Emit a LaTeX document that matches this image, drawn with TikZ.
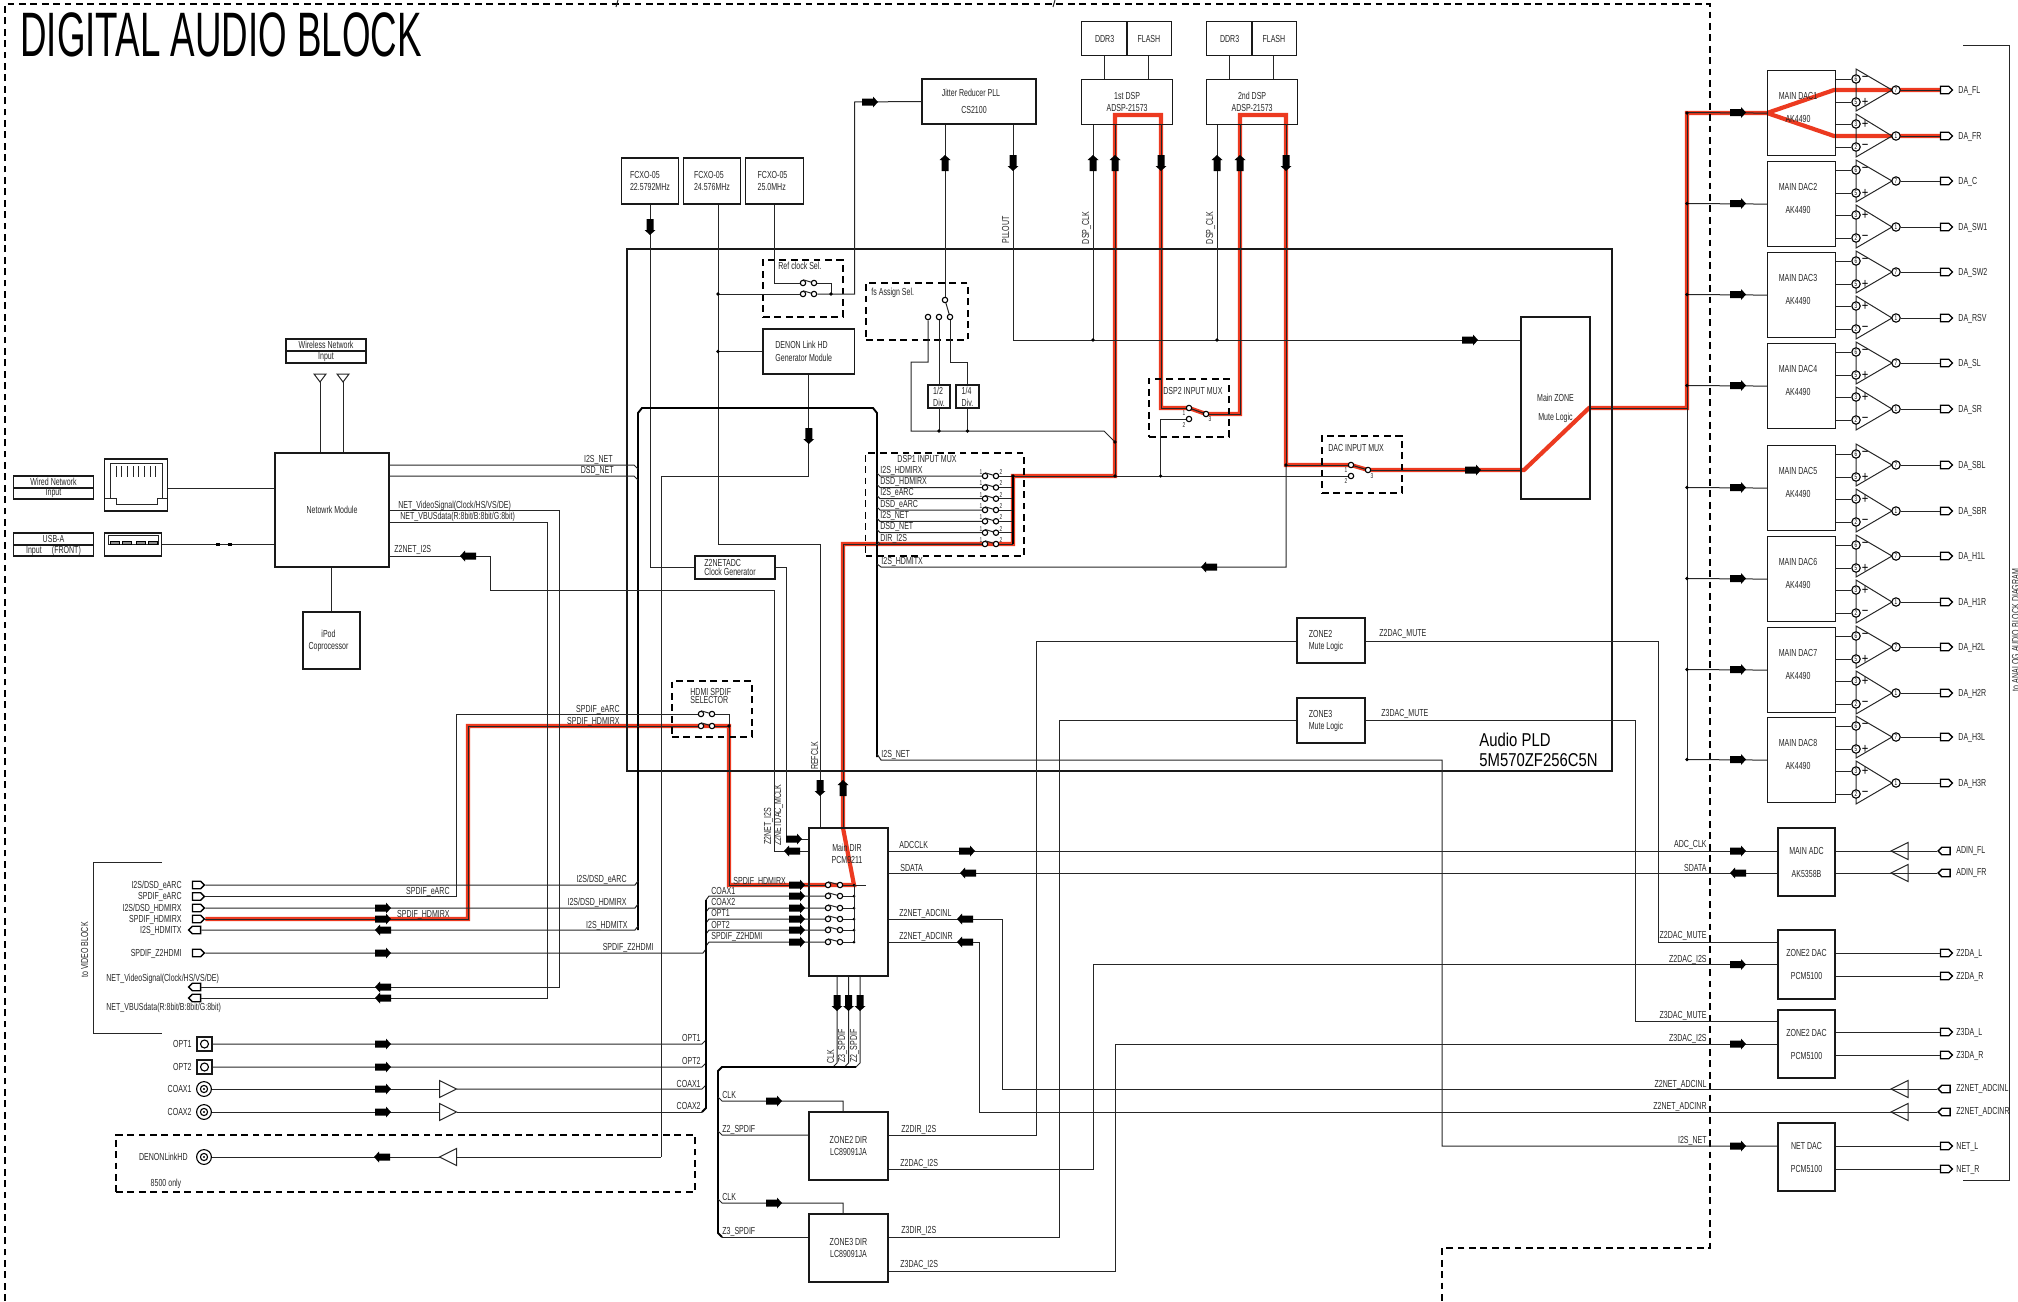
\documentclass[tikz,border=0pt]{standalone}
\usepackage{fontspec}
\setmainfont[FakeStretch=0.69]{Liberation Sans}
\newfontfamily\titlefont[FakeStretch=0.585]{Liberation Sans}
\newfontfamily\pldfont[FakeStretch=0.8]{Liberation Sans}
\usetikzlibrary{shapes.symbols, backgrounds}
\definecolor{hotred}{RGB}{236,58,32}
\begin{document}
\begin{tikzpicture}[
  x=0.5pt, y=-0.5pt,
  font=\fontsize{5.1}{6}\selectfont,
  blk/.style={rectangle, draw=black!90, line width=0.6pt, inner sep=0pt, align=center, text=black!85},
  blkl/.style={blk, align=left},
  wh/.style 2 args={minimum width=#1*0.5pt, minimum height=#2*0.5pt},
  zoneln/.style={line width=0.6pt, dash pattern=on 3.4pt off 2.3pt},
  zone/.style={rectangle, draw, zoneln, inner sep=0pt},
  sig/.style={line width=0.5pt, draw=black!85},
  busln/.style={line width=0.95pt},
  hot/.style={draw=hotred, line width=2.1pt},
  txt/.style={inner sep=0pt, align=center, text=black!85},
  lbl/.style={inner sep=0pt, anchor=west, text=black!85, text height=3.8pt, text depth=0.8pt},
  rlbl/.style={lbl, anchor=east},
  vlbl/.style={lbl, anchor=center, rotate=90},
  tiny/.style={inner sep=0pt, font=\fontsize{3.5}{4}\selectfont, text=black!85},
  sgn/.style={inner sep=0pt, font=\pldfont\fontsize{7}{7}\selectfont},
  pin/.style={circle, draw, fill=white, line width=0.55pt, inner sep=0pt, minimum size=2.7pt},
  pinn/.style={pin, minimum size=4.2pt, font=\fontsize{3.4}{4}\selectfont},
  tagout/.style={signal, signal to=east, draw, line width=0.65pt, inner sep=0pt,
                 minimum width=6pt, minimum height=3.8pt},
  tagin/.style={tagout, signal to=west},
  barr/.pic={\fill (-8,-3.5) -- (3,-3.5) -- (3,-5.5) -- (8,0) -- (3,5.5) -- (3,3.5) -- (-8,3.5) -- cycle;},
  bufa/.pic={\draw[sig, fill=white] (-8.5,-8.5) -- (8.5,0) -- (-8.5,8.5) -- cycle;
             \coordinate (-a) at (-8.5,0); \coordinate (-b) at (8.5,0);},
  antn/.pic={\draw[sig] (-6,-7) -- (6,-7) -- (0,1) -- cycle;}
]
\useasboundingbox (0,0) rectangle (2018,1301);
%% frames
\draw[zoneln] (5,1301) -- (5,4) -- (1710,4) -- (1710,1248) -- (1442,1248) -- (1442,1301);
\draw[sig] (618,0) -- (616,7);
\draw[sig] (1055,0) -- (1053,7);
\draw[sig] (162,862) -- (93,862) -- (93,1033) -- (162,1033);
\draw[sig] (1963,45) -- (2009,45) -- (2009,1180) -- (1963,1180);
\node[inner sep=0pt, anchor=west, font=\titlefont\fontsize{31.4}{32}\selectfont] (title) at (20,35) {DIGITAL AUDIO BLOCK};
\node[vlbl, anchor=center] (tovideo) at (85,950) {to VIDEO BLOCK};
\node[vlbl, anchor=center] (toanalog) at (2016,630) {to ANALOG AUDIO BLOCK DIAGRAM};
\node[blk, wh={985}{522}] (pld) at (1119.5,510) {};
\node[inner sep=0pt, anchor=north west, align=left, font=\pldfont\fontsize{9.3}{10}\selectfont] (pldtxt) at (1479,733) {Audio PLD\\5M570ZF256C5N};
%% network side
\node[blk, wh={114}{114}] (netmod) at (332,510) {Netowrk Module};
\node[blk, wh={57}{57}] (ipod) at (331.5,640.5) {iPod\hspace*{3pt}\\[0pt]Coprocessor\hspace*{3pt}};
\node[blk, wh={80}{12}] (wless_a) at (326,345) {Wireless Network};
\node[blk, wh={80}{12}] (wless_b) at (326,357) {Input};
\node[blk, wh={80}{12}] (wired_a) at (53.5,482) {Wired Network};
\node[blk, wh={80}{11}] (wired_b) at (53.5,493.5) {Input};
\node[blk, wh={80}{12}] (usb_a) at (53.5,539) {USB-A};
\node[blk, wh={80}{11}] (usb_b) at (53.5,550.5) {Input\quad(FRONT)};
\node[blk, wh={62.5}{52}] (rj45) at (136,485) {};
\node[blk, wh={57.5}{23}] (usbj) at (133,544.5) {};
\draw[sig] (104.5,498) -- (116,498) -- (116,504) -- (157,504) -- (157,498) -- (167,498);
\draw[sig] (110,498) -- (110,463) -- (162,463) -- (162,498);
\foreach \x in {116,121.7,...,157} \draw[sig] (\x,466) -- (\x,477);
\draw[sig] (108,535) rectangle (158,544);
\foreach \x in {110,122,136,148} \draw[line width=0.4pt, fill=black!45] (\x,541) rectangle (\x+9,544);
\pic (ant_a) at (320,381) {antn};
\pic (ant_b) at (343,381) {antn};
\draw[sig] (320,381) -- (netmod.north -| 320,0);
\draw[sig] (343,381) -- (netmod.north -| 343,0);
\draw[sig] (rj45.east |- 0,488) -- (netmod.west |- 0,488);
\draw[sig] (usbj.east) -- (netmod.west |- usbj.east);
\fill (216,542.5) rectangle (220,545.5);
\fill (228,542.5) rectangle (232,545.5);
\draw[sig] (netmod.south -| ipod.north) -- (ipod.north);
%% clock section
\node[blkl, wh={57.5}{46}] (fcxo1) at (650,181) {FCXO-05\\22.5792MHz};
\node[blkl, wh={57.5}{46}] (fcxo2) at (712,181) {FCXO-05\\24.576MHz};
\node[blkl, wh={57.5}{46}] (fcxo3) at (774.5,181) {FCXO-05\hspace*{2pt}\\25.0MHz};
\node[blk, wh={114}{45}] (jitter) at (979,101.5) {Jitter Reducer PLL\hspace*{8pt}\\[2.5pt]CS2100\hspace*{5pt}};
\node[zone, wh={80}{57}] (refsel) at (803,288.5) {};
\node[zone, wh={102}{57}] (fssel) at (917,311.5) {};
\node[blkl, wh={91.5}{45}] (denon) at (808.75,351.5) {DENON Link HD\\[0.5pt]Generator Module\hspace*{5pt}};
\node[blkl, wh={22}{23}] (div2) at (939,396.5) {1/2\\Div.};
\node[blkl, wh={23}{23}] (div4) at (967.5,396.5) {1/4\\Div.};
\node[blkl, wh={80}{23}] (clkgen) at (735,567.5) {Z2NETADC\\[-1.5pt]Clock Generator\hspace*{5pt}};
\node[pin] (ref_a) at (803,283) {};
\node[pin] (ref_b) at (814,283) {};
\node[pin] (ref_c) at (803,294) {};
\node[pin] (ref_d) at (814,294) {};
\node[pin] (fs_c) at (945,300) {};
\node[pin] (fs_1) at (928,317) {};
\node[pin] (fs_2) at (939,317) {};
\node[pin] (fs_3) at (950,317) {};
\draw[sig] (fcxo1.south) -- (fcxo1.south |- clkgen.west) -- (clkgen.west);
\draw[sig] (fcxo2.south -| 718,0) -- (718,544) -- (820,544) -- (820,828);
\draw[sig] (fcxo3.south) -- (fcxo3.south |- ref_a) -- (ref_a);
\draw[sig] (ref_a.north) -- (ref_b);
\draw[sig] (ref_c.north) -- (ref_d);
\draw[sig] (ref_b) -- (831,283) -- (831,294);
\draw[sig] (ref_d) -- (854.5,294) -- (854.5,102) -- (jitter.west);
\draw[sig] (718,294) -- (ref_c);
\draw[sig] (718,351.5) -- (denon.west);
\draw[sig] (denon.south) -- (808.75,476) -- (661,476) -- (661,1157);
\draw[sig] (jitter.south -| fs_c) -- (fs_c);
\draw[sig] (fs_c) -- (fs_3);
\draw[sig] (fs_1) -- (928,362) -- (911,362) -- (911,431) -- (1104,431) -- (1115,442);
\draw[sig] (fs_2) -- (div2.north);
\draw[sig] (fs_3) -- (950,362) -- (967.5,362) -- (div4.north);
\draw[sig] (div2.south) -- (939,431);
\draw[sig] (div4.south) -- (967.5,431);
%% dsp
\foreach \dn/\xx/\tx in {1/1081/1st DSP, 2/1206/2nd DSP} {
  \node[blk, wh={91}{45}, anchor=north west] (dsp\dn) at (\xx,79) {\tx\\ADSP-21573};
  \node[blk, wh={46}{34}, anchor=north west] (ddr\dn) at (\xx,21) {DDR3};
  \node[blk, wh={45}{34}, anchor=north east] (flash\dn) at (\xx+91,21) {FLASH};
  \draw[sig] (ddr\dn.south) -- (dsp\dn.north -| ddr\dn.south);
  \draw[sig] (flash\dn.south) -- (dsp\dn.north -| flash\dn.south);
}
\draw[sig] (jitter.south -| 1013,0) -- (1013,340) -- (1521,340);
\draw[sig] (dsp1.south -| 1093,0) -- (1093,340);
\draw[sig] (dsp2.south -| 1217,0) -- (1217,340);
%% muxes
\node[zone, wh={158.5}{103}] (dspmux) at (944.75,504.5) {};
\node[zone, wh={80}{58}] (dspmuxb) at (1189,408) {};
\node[zone, wh={80}{57}] (dacmux) at (1362,464.5) {};
\node[zone, wh={80}{56}] (hdmisel) at (712,709) {};
\node[blk, wh={69}{182}] (mainzone) at (1555.5,408) {Main ZONE\\[3.5pt]Mute Logic};
\node[blkl, wh={68}{45}] (zmute2) at (1331,640.5) {ZONE2\\Mute Logic\hspace*{5pt}};
\node[blkl, wh={68}{45}] (zmute3) at (1331,720.5) {ZONE3\\Mute Logic\hspace*{5pt}};
\draw[busln] (638,930) -- (638,413) -- (642,408) -- (873,408) -- (877,413) -- (877,757);
\foreach \dn/\yy/\tx in {1/476/I2S\_HDMIRX, 2/487.5/DSD\_HDMIRX, 3/498.7/I2S\_eARC, 4/510/DSD\_eARC,
                         5/521.3/I2S\_NET, 6/532.7/DSD\_NET, 7/544/DIR\_I2S} {
  \node[pin] (ma\dn) at (985,\yy) {};
  \node[pin] (mb\dn) at (996,\yy) {};
  \draw[sig] (877,\yy-3) -- (880,\yy) -- (ma\dn);
  \draw[sig] (ma\dn.north) -- (mb\dn);
  \draw[sig] (mb\dn) -- (1013,\yy);
  \node[lbl] at (880,\yy-6) {\tx};
  \node[tiny] at (981,\yy-4) {1};
  \node[tiny] at (1001,\yy-4) {2};
}
\draw[busln] (1013,476) -- (1013,544);
\node[pin] (dsb1) at (1189,408) {};
\node[pin] (dsb2) at (1189,419) {};
\node[pin] (dsb3) at (1206,414) {};
\node[pin] (dac1p) at (1351,465) {};
\node[pin] (dac2p) at (1351,476) {};
\node[pin] (dac3p) at (1368,470) {};
\draw[sig] (dsb1) -- (dsb3);
\draw[sig] (dac1p) -- (dac3p);
\draw[sig] (1013,476) -- (dac2p);
\draw[sig] (1160.6,476) -- (1160.6,419) -- (dsb2);
\draw[sig] (877,564) -- (881,567) -- (1286,567) -- (1286,465);
\draw[sig] (877,754) -- (881,760) -- (1442,760) -- (1442,1146) -- (1778,1146);
%% left terminals
\foreach \nm/\yy/\tx/\sty in {eiis/885/{I2S/DSD\_eARC}/tagout, espd/896.5/{SPDIF\_eARC}/tagout,
    hiis/908/{I2S/DSD\_HDMIRX}/tagout, hspd/919/{SPDIF\_HDMIRX}/tagout,
    htx/930/{I2S\_HDMITX}/tagin, zspd/953/{SPDIF\_Z2HDMI}/tagout} {
  \node[\sty] (t\nm) at (196.5,\yy) {};
  \node[rlbl] at (182,\yy) {\tx};
}
\node[tagin] (tvid) at (196.5,987) {};
\node[tagin] (tvbus) at (196.5,998) {};
\node[lbl] at (106,978) {NET\_VideoSignal(Clock/HS/VS/DE)};
\node[lbl] at (106,1007) {NET\_VBUSdata(R:8bit/B:8bit/G:8bit)};
\node[blk, wh={15}{14}] (jo1) at (204.5,1044) {};
\node[blk, wh={15}{14}] (jo2) at (204.5,1067) {};
\node[pin, minimum size=4pt] (jo1i) at (204.5,1044) {};
\node[pin, minimum size=4pt] (jo2i) at (204.5,1067) {};
\foreach \nm/\yy/\tx in {c1/1089/COAX1, c2/1112/COAX2, d1/1157/DENONLinkHD} {
  \node[pin, minimum size=7.4pt] (j\nm) at (204,\yy) {};
  \node[pin, minimum size=3.6pt] (j\nm i) at (204,\yy) {};
  \fill (204,\yy) circle[radius=0.6pt];
}
\node[rlbl] at (192,1044) {OPT1};
\node[rlbl] at (192,1067) {OPT2};
\node[rlbl] at (192,1089) {COAX1};
\node[rlbl] at (192,1112) {COAX2};
\node[rlbl] at (188,1157) {DENONLinkHD};
\node[lbl, anchor=center] at (166,1183) {8500 only};
\node[zone, wh={579}{57}] (only8500) at (405.5,1163.5) {};
\pic (bca) at (448,1089) {bufa};
\pic (bcb) at (448,1112) {bufa};
\pic[rotate=180] (bdn) at (448,1157) {bufa};
\draw[sig] (jc1) -- (bca-a);
\draw[sig] (jc2) -- (bcb-a);
\draw[sig] (jd1) -- (bdn-b);
\draw[sig] (bdn-a) -- (661,1157);
\draw[sig] (bca-b) -- (702,1089) -- (706,1085);
\draw[sig] (bcb-b) -- (702,1112);
\draw[sig] (jo1) -- (702,1044) -- (706,1040);
\draw[sig] (jo2) -- (702,1067) -- (706,1063);
\draw[sig] (teiis.east) -- (635,885) -- (638,881);
\draw[sig] (thiis.east) -- (635,908) -- (638,904);
\draw[sig] (thtx.east) -- (635,930) -- (638,926);
\draw[sig] (tzspd.east) -- (703,953) -- (706,949);
%% network buses
\draw[sig] (netmod.east |- 0,465) -- (634,465) -- (638,469);
\draw[sig] (netmod.east |- 0,476) -- (634,476) -- (638,480);
\draw[sig] (netmod.east |- 0,510) -- (559,510) -- (559,987) -- (tvid.east);
\draw[sig] (netmod.east |- 0,522) -- (547,522) -- (547,998) -- (tvbus.east);
\draw[sig] (netmod.east |- 0,556) -- (490,556) -- (490,590) -- (774.5,590) -- (774.5,851) -- (809,851);
\draw[sig] (clkgen.east) -- (786,567.5) -- (786,839) -- (809,839);
%% hdmi selector
\node[pin] (hs_a) at (701,714) {};
\node[pin] (hs_b) at (712,714) {};
\node[pin] (hs_c) at (701,726) {};
\node[pin] (hs_d) at (712,726) {};
\draw[sig] (hs_a.north) -- (hs_b);
\draw[sig] (hs_c.north) -- (hs_d);
\draw[sig] (hs_b) -- (729,714) -- (729,726);
\draw[sig] (tespd.east) -- (456,896.5) -- (456,714) -- (hs_a);
%% main dir
\node[blk, wh={79}{148}] (dir) at (848.5,902) {};
\node[txt] (dirtxt) at (847,853.5) {Main DIR\\PCM9211};
\node[blk, wh={79}{68}] (zdir2) at (848.5,1146) {ZONE2 DIR\\LC89091JA};
\node[blk, wh={79}{68}] (zdir3) at (848.5,1248) {ZONE3 DIR\\LC89091JA};
\foreach \dn/\yy in {1/885,2/896,3/908,4/919,5/930,6/942} {
  \node[pin] (da\dn) at (828,\yy) {};
  \node[pin] (db\dn) at (840,\yy) {};
  \draw[sig] (da\dn.north) -- (db\dn);
  \draw[sig] (db\dn) -- (854,\yy);
  \fill (854,\yy) circle[radius=0.75pt];
}
\draw[sig] (854,885) -- (866,885);
\draw[sig] (854,885) -- (854,942);
\foreach \dn/\yy in {2/896,3/908,4/919,5/930,6/942} \draw[sig] (706,\yy+4) -- (709,\yy) -- (da\dn);
\draw[busln] (706,900) -- (706,1108) -- (702,1112);
\draw[sig] (dir.south -| 837,0) -- (837,1063) -- (833,1067);
\draw[sig] (dir.south -| 848.5,0) -- (848.5,1063) -- (844.5,1067);
\draw[sig] (dir.south -| 860,0) -- (860,1063) -- (856,1067);
\draw[busln] (856,1067) -- (722,1067) -- (718,1071) -- (718,1233) -- (722,1237);
\draw[sig] (718,1097) -- (722,1101) -- (843,1101) -- (zdir2.north -| 843,0);
\draw[sig] (718,1131) -- (722,1135) -- (zdir2.west |- 0,1135);
\draw[sig] (718,1199) -- (722,1203) -- (843,1203) -- (zdir3.north -| 843,0);
\draw[sig] (722,1237) -- (zdir3.west |- 0,1237);
\draw[sig] (zdir2.east |- 0,1135) -- (1036,1135) -- (1036,641) -- (zmute2.west |- 0,641);
\draw[sig] (zdir2.east |- 0,1169) -- (1093,1169) -- (1093,964.5) -- (1778,964.5);
\draw[sig] (zdir3.east |- 0,1237) -- (1059,1237) -- (1059,720) -- (zmute3.west |- 0,720);
\draw[sig] (zdir3.east |- 0,1271) -- (1115,1271) -- (1115,1044) -- (1778,1044);
%% right side boxes
\node[blk, wh={57}{68}] (madc) at (1806.5,862) {MAIN ADC\\[5.5pt]AK5358B};
\node[blk, wh={57}{69}] (zdac2) at (1806.5,964.5) {ZONE2 DAC\\[5.5pt]PCM5100};
\node[blk, wh={57}{68}] (zdac3) at (1806.5,1044) {ZONE2 DAC\\[5.5pt]PCM5100};
\node[blk, wh={57}{68}] (ndac) at (1806.5,1157) {NET DAC\\[5.5pt]PCM5100};
\draw[sig] (dir.east |- 0,851) -- (madc.west |- 0,851);
\draw[sig] (dir.east |- 0,873) -- (madc.west |- 0,873);
\draw[sig] (zmute2.east |- 0,641) -- (1658,641) -- (1658,942) -- (zdac2.west |- 0,942);
\draw[sig] (zmute3.east |- 0,720) -- (1635,720) -- (1635,1021) -- (zdac3.west |- 0,1021);
\foreach \nm/\yy/\tx in {ina/851/ADIN\_FL, inb/873/ADIN\_FR, inc/1089/Z2NET\_ADCINL, ind/1112/Z2NET\_ADCINR} {
  \pic[rotate=180] (b\nm) at (1899.5,\yy) {bufa};
  \node[tagin] (t\nm) at (1946,\yy) {};
  \draw[sig] (t\nm.west) -- (b\nm-b);
  \node[lbl] at (1956,\yy-1) {\tx};
}
\draw[sig] (madc.east |- 0,851) -- (bina-a);
\draw[sig] (madc.east |- 0,873) -- (binb-a);
\draw[sig] (dir.east |- 0,919) -- (1002,919) -- (1002,1089) -- (binc-a);
\draw[sig] (dir.east |- 0,942) -- (979,942) -- (979,1112) -- (bind-a);
\foreach \nm/\yy/\tx/\bx in {ua/953/Z2DA\_L/zdac2, ub/976/Z2DA\_R/zdac2, uc/1032/Z3DA\_L/zdac3,
                             ud/1055/Z3DA\_R/zdac3, ue/1146/NET\_L/ndac, uf/1169/NET\_R/ndac} {
  \node[tagout] (t\nm) at (1944.5,\yy) {};
  \draw[sig] (\bx.east |- 0,\yy) -- (t\nm.west);
  \node[lbl] at (1956,\yy) {\tx};
}
%% dacs
\foreach \dn/\yy/\la/\lb in {1/70/DA\_FL/DA\_FR, 2/161/DA\_C/DA\_SW1, 3/252/DA\_SW2/DA\_RSV, 4/343/DA\_SL/DA\_SR,
                             5/445/DA\_SBL/DA\_SBR, 6/536/DA\_H1L/DA\_H1R, 7/627/DA\_H2L/DA\_H2R, 8/717/DA\_H3L/DA\_H3R} {
  \node[blk, wh={68}{85}, anchor=north west] (dac\dn) at (1767,\yy) {};
  \node[txt] at (1798,\yy+37.5) {MAIN DAC\dn\\[5.5pt]AK4490};
  \draw[sig] (1687,\yy+42.5) -- (dac\dn.west);
  \draw[sig] (1856,\yy-1) -- (1892,\yy+20) -- (1856,\yy+41) -- cycle;
  \draw[sig] (1856,\yy+44) -- (1892,\yy+66) -- (1856,\yy+87) -- cycle;
  \foreach \nn/\dy/\sg in {6/9/−, 5/32/+, 3/54/+, 2/77/−} {
    \node[pinn] (dacp\dn\nn) at (1856,\yy+\dy) {\nn};
    \draw[sig] (dac\dn.east |- dacp\dn\nn) -- (dacp\dn\nn);
    \node[sgn] at (1865,\yy+\dy) {\sg};
  }
  \foreach \nn/\dy/\tx in {7/20/\la, 1/66/\lb} {
    \node[pinn] (dacp\dn\nn) at (1896,\yy+\dy) {\nn};
    \node[tagout] (da\dn\nn) at (1944.5,\yy+\dy) {};
    \draw[sig] (dacp\dn\nn) -- (da\dn\nn.west);
    \node[lbl] at (1958,\yy+\dy) {\tx};
  }
}
\draw[sig] (1687,112.5) -- (1687,760);
\foreach \yy in {113,203.5,294.5,385.5,487.5,578.5,669.5,759.5} {\fill (1687,\yy) circle[radius=0.9pt];}
\draw[sig] (thspd.east) -- (468,919) -- (468,726) -- (hs_c);
\draw[sig] (hs_d) -- (729,726) -- (729,885) -- (da1);
\draw[sig] (dir.north -| 843,0) -- (843,544) -- (ma7);
\draw[sig] (1115,476) -- (1115,124);
\draw[sig] (1161,124) -- (1161,408) -- (dsb1);
\draw[sig] (dsb3) -- (1240,414) -- (1240,124);
\draw[sig] (1286,124) -- (1286,465) -- (dac1p);
\draw[sig] (dac3p) -- (mainzone.west |- dac3p);
\draw[sig] (mainzone.east) -- (1687,408);
\begin{pgfonlayer}{background}
\draw[hot] (thspd.east) -- (468,919) -- (468,726) -- (729,726) -- (729,885) -- (854,885) -- (843,828) -- (843,544)
  -- (1013,544) -- (1013,476) -- (1115,476) -- (1115,115) -- (1161,115) -- (1161,408) -- (1189,408) -- (1206,414)
  -- (1240,414) -- (1240,115) -- (1286,115) -- (1286,465) -- (1351,465) -- (1368,470) -- (1524,470) -- (1589,408)
  -- (1687,408) -- (1687,113) -- (1767,113) -- (1834,90) -- (da17.west);
\draw[hot] (1767,113) -- (1834,136) -- (da11.west);
\end{pgfonlayer}
%% arrows
\foreach \x/\y/\rr in {870/102/0, 945/163/90, 1013/163/270, 1093/163/90, 1115/163/90, 1161/163/270, 1217/163/90,
    1240/163/90, 1286/163/270, 650/227/270, 808.75/436/270, 1470/340/0, 1473/470/0, 468/556/180, 1209/567/180,
    820/788/270, 843/788/90, 383/908/0, 383/919/0, 383/930/180, 383/953/0, 383/987/180, 383/998/180, 383/1044/0,
    383/1067/0, 383/1089/0, 383/1112/0, 382/1157/180, 797/885/0, 797/896/0, 797/908/0, 797/919/0, 797/930/0,
    797/942/0, 794/839/0, 792/851/180, 967/851/0, 968/873/180, 965/919/180, 965/942/180, 837/1003/270,
    848.5/1003/270, 860/1003/270, 774/1101/0, 774/1203/0, 1738/851/0, 1738/873/180, 1738/964.5/0, 1738/1044/0,
    1738/1146/0, 1738/112.5/0, 1738/203.5/0, 1738/294.5/0, 1738/385.5/0, 1738/487.5/0, 1738/578.5/0,
    1738/669.5/0, 1738/759.5/0} {
  \pic[rotate=\rr] at (\x,\y) {barr};
}
%% junction dots
\foreach \x/\y in {718/294, 718/351.5, 831/294, 939/431, 967.5/431, 1093/340, 1217/340, 1115/476, 1115/442,
    1160.6/476, 1286/465, 1013/476, 729/726} {
  \fill (\x,\y) circle[radius=0.9pt];
}
%% labels
\foreach \x/\y/\tx in {398/505/{NET\_VideoSignal(Clock/HS/VS/DE)}, 400/516/{NET\_VBUSdata(R:8bit/B:8bit/G:8bit)},
    394/549/Z2NET\_I2S, 881/561/I2S\_HDMITX, 881/754/I2S\_NET, 1379/633/Z2DAC\_MUTE, 1381/713/Z3DAC\_MUTE,
    711/891/COAX1, 711/902/COAX2, 711/913/OPT1, 711/925/OPT2, 711/936/SPDIF\_Z2HDMI, 733/881/SPDIF\_HDMIRX,
    899/845/ADCCLK, 900/868/SDATA, 899/913/Z2NET\_ADCINL, 899/936/Z2NET\_ADCINR, 722/1095/CLK, 722/1129/Z2\_SPDIF,
    722/1197/CLK, 722/1231/Z3\_SPDIF, 901/1129/Z2DIR\_I2S, 900/1163/Z2DAC\_I2S, 901/1230/Z3DIR\_I2S,
    900/1264/Z3DAC\_I2S, 778/266/Ref clock Sel., 871/292/fs Assign Sel., 1163/391/DSP2 INPUT MUX,
    1328/448/DAC INPUT MUX, 690/692/HDMI SPDIF, 690/700/SELECTOR} {
  \node[lbl] at (\x,\y) {\tx};
}
\node[lbl, anchor=center] at (927,459) {DSP1 INPUT MUX};
\foreach \x/\y/\tx in {613/459/I2S\_NET, 614/470/DSD\_NET, 620/709/SPDIF\_eARC, 620/721/SPDIF\_HDMIRX,
    450/891/SPDIF\_eARC, 450/914/SPDIF\_HDMIRX, 627/879/{I2S/DSD\_eARC}, 627/902/{I2S/DSD\_HDMIRX},
    628/925/I2S\_HDMITX, 654/947/SPDIF\_Z2HDMI, 701/1038/OPT1, 701/1061/OPT2, 701/1084/COAX1, 701/1106/COAX2,
    1707/844/ADC\_CLK, 1707/868/SDATA, 1707/935/Z2DAC\_MUTE, 1707/959/Z2DAC\_I2S, 1707/1015/Z3DAC\_MUTE,
    1707/1038/Z3DAC\_I2S, 1707/1084/Z2NET\_ADCINL, 1707/1106/Z2NET\_ADCINR, 1707/1140/I2S\_NET} {
  \node[rlbl] at (\x,\y) {\tx};
}
\foreach \x/\y/\tx in {1006/230/PLLOUT, 1086/228/DSP\_CLK, 1210/228/DSP\_CLK, 815/756/REFCLK, 768/826/Z2NET\_I2S,
    778/815/Z2NETDAC\_MCLK, 831/1057/CLK, 842/1046/Z3\_SPDIF, 854/1046/Z2\_SPDIF} {
  \node[vlbl] at (\x,\y) {\tx};
}
\foreach \x/\y/\tx in {1184/413/1, 1210/419/3, 1184/425/2, 1346/470/1, 1372/476/3, 1346/481/2} {
  \node[tiny] at (\x,\y) {\tx};
}
\end{tikzpicture}
\end{document}
